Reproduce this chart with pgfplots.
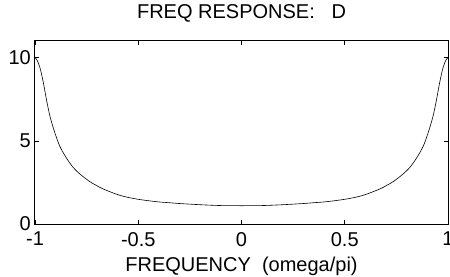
\documentclass[border=0pt]{standalone}
\usepackage{fontspec}
\setmainfont{Liberation Sans}
\usepackage{pgfplots}
\pgfplotsset{compat=1.18}
\begin{document}
\begin{tikzpicture}
\begin{axis}[
  scale only axis,
  width=413pt, height=183pt,
  xmin=-1, xmax=1, ymin=0, ymax=11,
  xtick={-1,-0.5,0,0.5,1},
  xticklabels={-1,-0.5,0,0.5,1},
  ytick={0,5,10},
  yticklabels={0,5,10},
  tick align=inside,
  major tick length=4pt,
  tick style={black, line width=0.6pt},
  axis line style={black, line width=1pt},
  tick label style={font=\fontsize{20}{24}\selectfont},
  /pgf/number format/assume math mode=true,
  xticklabel style={inner sep=0pt, yshift=-8pt},
  yticklabel style={inner sep=0pt, xshift=-4pt},
  title={FREQ RESPONSE:\ \ \ D},
  title style={font=\fontsize{20}{24}\selectfont, inner sep=0pt, anchor=base, at={(0.5,1)}, yshift=16pt},
  xlabel={FREQUENCY\ \ (omega/pi)},
  xlabel style={font=\fontsize{20}{24}\selectfont, inner sep=0pt, anchor=base, at={(0.5,0)}, yshift=-47pt},
]
\addplot[black, line width=0.6pt, smooth, tension=0.5] coordinates {
(-1.000,10.00) (-0.990,9.85) (-0.976,9.40) (-0.960,8.52) (-0.944,7.45) (-0.927,6.45)
(-0.903,5.45) (-0.879,4.65) (-0.847,3.95) (-0.815,3.40) (-0.780,2.98) (-0.735,2.55)
(-0.700,2.30) (-0.669,2.10) (-0.588,1.72) (-0.508,1.50) (-0.411,1.34) (-0.350,1.28) (-0.298,1.23)
(-0.201,1.16) (-0.104,1.11) (0,1.10)
(0.104,1.11) (0.201,1.16) (0.298,1.23) (0.350,1.28) (0.411,1.34) (0.508,1.50)
(0.588,1.72) (0.669,2.10) (0.700,2.30) (0.735,2.55) (0.780,2.98) (0.815,3.40) (0.847,3.95)
(0.879,4.65) (0.903,5.45) (0.927,6.45) (0.944,7.45) (0.960,8.52) (0.976,9.40)
(0.990,9.85) (1.000,10.00)
};
\coordinate (ll) at (rel axis cs:0,0);
\coordinate (ur) at (rel axis cs:1,1);
\end{axis}
\pgfresetboundingbox
\path ([shift={(-35pt,-52pt)}]ll) rectangle ([shift={(2pt,41pt)}]ur);
\end{tikzpicture}
\end{document}
